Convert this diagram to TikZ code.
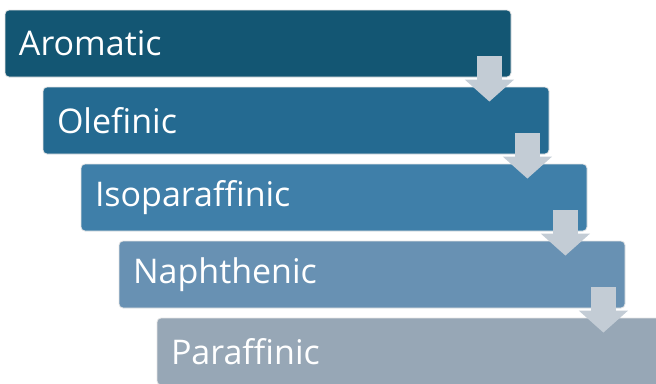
\documentclass[tikz,border=0pt]{standalone}
\usepackage{fontspec}
\setmainfont{Open Sans}
\usetikzlibrary{arrows.meta}

\definecolor{tierA}{HTML}{135673}
\definecolor{tierB}{HTML}{246A91}
\definecolor{tierC}{HTML}{3F7FA9}
\definecolor{tierD}{HTML}{6891B3}
\definecolor{tierE}{HTML}{97A7B6}
\definecolor{flowgrey}{HTML}{C3CCD5}

\tikzset{
  tier/.style={draw=gray!20, line width=0.8pt, rounded corners=4pt,
    minimum width=506pt, minimum height=67pt, inner xsep=14pt,
    text width=478pt, align=left, text=white,
    font=\fontsize{34}{40}\selectfont},
  flow/.style={flowgrey, line width=25pt,
    -{Triangle[width=48pt,length=22pt]}}
}

\begin{document}
\begin{tikzpicture}[x=1pt,y=-1pt]
      \useasboundingbox (0,0) rectangle (656,383);
      \clip (0,0) rectangle (656,383);
      \draw
        (258,43.5) node[tier, fill=tierA] (arom){Aromatic}
        (296,120.5) node[tier, fill=tierB] (olef){Olefinic}
        (334,197.5) node[tier, fill=tierC] (iso){Isoparaffinic}
        (372,274.5) node[tier, fill=tierD] (naph){Naphthenic}
        (410,351.5) node[tier, fill=tierE] (para){Paraffinic};
      % downward arrows between the tiers
      \begin{scope}
        \draw[flow] ([shift={(-22pt,21pt)}]arom.south east) -- ([shift={(-60pt,-15pt)}]olef.north east);
        \draw[flow] ([shift={(-22pt,21pt)}]olef.south east) -- ([shift={(-60pt,-15pt)}]iso.north east);
        \draw[flow] ([shift={(-22pt,21pt)}]iso.south east) -- ([shift={(-60pt,-15pt)}]naph.north east);
        \draw[flow] ([shift={(-22pt,21pt)}]naph.south east) -- ([shift={(-60pt,-15pt)}]para.north east);
      \end{scope}
    \end{tikzpicture}
\end{document}
